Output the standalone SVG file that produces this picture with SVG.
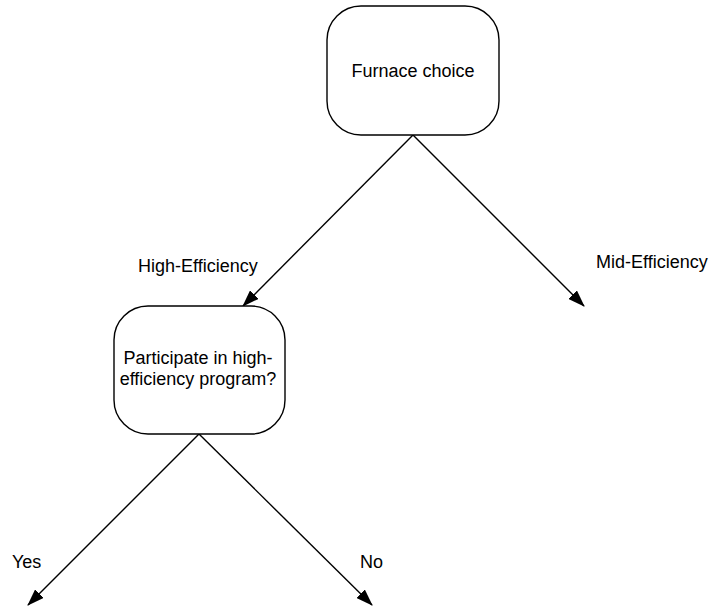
<svg xmlns="http://www.w3.org/2000/svg" width="716" height="606" viewBox="0 0 716 606">
<defs>
<marker id="arr" markerWidth="17" markerHeight="12" refX="16" refY="6" orient="auto" markerUnits="userSpaceOnUse">
<path d="M0,0 L17,6 L0,12 Z" fill="#000"/>
</marker>
<style>
.box{fill:#fff;stroke:#000;stroke-width:1.4}
.t{font-family:"Liberation Sans",Arial,sans-serif;font-size:18px;fill:#000}
.c{stroke:#000;stroke-width:1.4;fill:none}
</style>
</defs>
<rect width="716" height="606" fill="#fff"/>
<g id="connectors">
<line class="c" x1="413" y1="135" x2="243" y2="306" marker-end="url(#arr)"/>
<line class="c" x1="413" y1="135" x2="584" y2="306" marker-end="url(#arr)"/>
<line class="c" x1="199" y1="434" x2="28" y2="605" marker-end="url(#arr)"/>
<line class="c" x1="199" y1="434" x2="372" y2="605" marker-end="url(#arr)"/>
<text class="t" x="138" y="272">High-Efficiency</text>
<text class="t" x="596" y="268">Mid-Efficiency</text>
<text class="t" x="12" y="568">Yes</text>
<text class="t" x="360" y="568">No</text>
</g>
<g id="furnace">
<rect class="box" x="327" y="6" width="172" height="129" rx="34" ry="34"/>
<text class="t" x="413" y="77" text-anchor="middle">Furnace choice</text>
</g>
<g id="participate">
<rect class="box" x="114" y="306" width="171" height="128" rx="34" ry="34"/>
<text class="t" x="198" y="364" text-anchor="middle">Participate in high-</text>
<text class="t" x="198" y="385" text-anchor="middle">efficiency program?</text>
</g>
</svg>
